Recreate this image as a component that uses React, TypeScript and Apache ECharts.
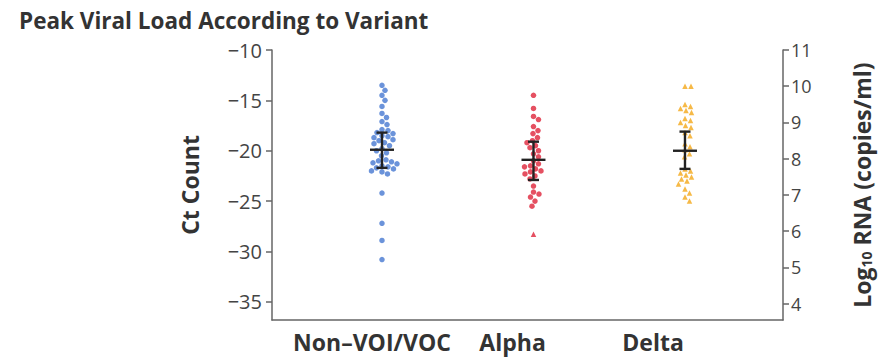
import React, { useEffect, useRef } from "react";
import * as echarts from "echarts";

const chartTitle = "Peak Viral Load According to Variant";
const variants = ["Non–VOI/VOC", "Alpha", "Delta"];
const variantColors = ["#5b87d6", "#e23d50", "#f5b133"];

const nonVoiCircles = [
  -13.5, -14.0, -14.5, -15.0, -15.6,
  -16.3, -16.7, -17.1, -17.4,
  -17.9, -18.0, -18.2, -18.3, -18.5, -18.6, -18.7, -18.9, -19.0, -19.2, -19.3, -19.5,
  -19.8, -20.0, -20.2, -20.5,
  -20.9, -21.0, -21.1, -21.2, -21.3, -21.5, -21.6, -21.7, -21.8, -22.0, -22.1, -22.3,
  -24.2, -27.2, -28.9, -30.8,
];
const nonVoiTriangles: number[] = [];

const alphaCircles = [
  -14.5, -15.8, -16.6, -16.9, -17.6, -18.0, -18.3, -18.7, -19.0, -19.2, -19.5, -19.7,
  -20.0, -20.3, -20.6, -21.0, -21.3, -21.5, -21.6, -21.8, -22.0, -22.1, -22.3, -22.5,
  -22.8, -23.5, -24.1, -24.3, -24.6, -25.0, -25.5,
];
const alphaTriangles = [-28.3];

const deltaCircles: number[] = [];
const deltaTriangles = [
  -13.6, -13.6, -15.4, -15.6, -15.8, -16.0, -16.2, -16.8, -17.0, -17.2, -17.5, -17.7,
  -18.2, -18.5, -19.3, -19.6, -19.9, -20.3, -20.6, -21.8, -22.0, -22.2, -22.4, -22.6,
  -22.8, -23.0, -23.3, -23.8, -24.2, -24.6, -25.0,
];

const meanCt = [-19.9, -20.9, -20.0];
const upperCt = [-18.2, -19.1, -18.1];
const lowerCt = [-21.7, -22.9, -21.8];

const ctTicks = [-35, -30, -25, -20, -15, -10];
const rnaTicks = [4, 5, 6, 7, 8, 9, 10, 11];

// approximate pixel scales used only for the beeswarm collision layout
const Y_PX = 10.08;
const X_PX = 151.5;
const DIAM = 5.8;

function swarm(circles: number[], triangles: number[], center: number) {
  const items = circles
    .map((v) => ({ v, s: "circle" }))
    .concat(triangles.map((v) => ({ v, s: "triangle" })));
  const order = items.map((_, i) => i).sort((a, b) => items[b].v - items[a].v);
  const placed: { x: number; y: number }[] = [];
  const out: any[] = [];
  for (const i of order) {
    const y = items[i].v * Y_PX;
    let chosen = 0;
    for (let k = 0; k < 400; k++) {
      const off = (k % 2 === 1 ? 1 : -1) * Math.ceil(k / 2) * 0.5;
      let ok = true;
      for (const p of placed) {
        const dx = p.x - off;
        const dy = p.y - y;
        if (dx * dx + dy * dy < DIAM * DIAM) {
          ok = false;
          break;
        }
      }
      if (ok) {
        chosen = off;
        break;
      }
    }
    placed.push({ x: chosen, y });
    out.push({ value: [center + chosen / X_PX, items[i].v], symbol: items[i].s });
  }
  return out;
}

const fontFamily = "'Open Sans', 'Noto Sans', sans-serif";

export default function App() {
  const ref = useRef<HTMLDivElement>(null);
  useEffect(() => {
    if (!ref.current) return;
    const chart = echarts.init(ref.current, null, { renderer: "svg" });
    const groups = [
      [nonVoiCircles, nonVoiTriangles],
      [alphaCircles, alphaTriangles],
      [deltaCircles, deltaTriangles],
    ];
    const scatterSeries = groups.map((g, i) => ({
      type: "scatter",
      name: variants[i],
      xAxisIndex: 0,
      yAxisIndex: 0,
      symbolSize: 5.5,
      itemStyle: { color: variantColors[i], opacity: 0.9 },
      data: swarm(g[0], g[1], i + 1),
      z: 2,
    }));
    const axisLineStyle = { color: "#666", width: 1.5 };
    chart.setOption({
      animation: false,
      textStyle: { fontFamily },
      title: {
        text: chartTitle,
        left: 14,
        top: 4,
        textStyle: { fontSize: 22.5, fontWeight: "bold", color: "#333", fontFamily },
      },
      grid: { left: 272, right: 101, top: 50, bottom: 40, containLabel: false },
      xAxis: [
        {
          type: "value",
          min: 0.274,
          max: 3.647,
          axisLine: { show: true, lineStyle: axisLineStyle },
          axisTick: { show: false },
          axisLabel: { show: false },
          splitLine: { show: false },
        },
        {
          type: "value",
          min: 0.288,
          max: 3.925,
          position: "bottom",
          axisLine: { show: false },
          axisTick: { show: false },
          splitLine: { show: false },
          axisLabel: {
            customValues: [1, 2, 3],
            formatter: (v: number) => variants[Math.round(v) - 1] || "",
            fontSize: 23,
            fontWeight: "bold",
            color: "#333",
            margin: 10,
            fontFamily,
          },
        },
      ],
      yAxis: [
        {
          type: "value",
          position: "left",
          min: -36.8,
          max: -10,
          axisLine: { show: true, lineStyle: axisLineStyle },
          axisTick: { show: true, customValues: ctTicks, length: 6, lineStyle: axisLineStyle },
          axisLabel: {
            customValues: ctTicks,
            formatter: (v: number) => String(v).replace("-", "\u2212"),
            fontSize: 20,
            color: "#444",
            margin: 10,
            fontFamily,
          },
          splitLine: { show: false },
          name: "Ct Count",
          nameLocation: "middle",
          nameGap: 71,
          nameTextStyle: { fontSize: 23, fontWeight: "bold", color: "#333", fontFamily },
        },
        {
          type: "value",
          position: "right",
          min: 3.55,
          max: 11,
          axisLine: { show: true, lineStyle: axisLineStyle },
          axisTick: { show: true, customValues: rnaTicks, length: 6, lineStyle: axisLineStyle },
          axisLabel: {
            customValues: rnaTicks,
            fontSize: 18,
            color: "#444",
            margin: 8,
            fontFamily,
          },
          splitLine: { show: false },
          name: "{b|Log}{s|10}{b| RNA (copies/ml)}",
          nameLocation: "middle",
          nameGap: 67,
          nameTextStyle: {
            rich: {
              b: { fontSize: 23, fontWeight: "bold", color: "#333", fontFamily },
              s: { fontSize: 14, fontWeight: "bold", color: "#333", fontFamily, padding: [9, 0, 0, 0] },
            },
          },
        },
      ],
      series: [
        ...scatterSeries,
        {
          type: "custom",
          xAxisIndex: 0,
          yAxisIndex: 0,
          z: 10,
          data: variants.map((_, i) => [i + 1, meanCt[i], lowerCt[i], upperCt[i]]),
          renderItem: (params: any, api: any) => {
            const c = api.coord([api.value(0), api.value(1)]);
            const lo = api.coord([api.value(0), api.value(2)]);
            const hi = api.coord([api.value(0), api.value(3)]);
            const style = { stroke: "#222", lineWidth: 2.4, fill: null };
            return {
              type: "group",
              children: [
                { type: "line", shape: { x1: c[0], y1: hi[1], x2: c[0], y2: lo[1] }, style },
                { type: "line", shape: { x1: c[0] - 5.5, y1: hi[1], x2: c[0] + 5.5, y2: hi[1] }, style },
                { type: "line", shape: { x1: c[0] - 5.5, y1: lo[1], x2: c[0] + 5.5, y2: lo[1] }, style },
                { type: "line", shape: { x1: c[0] - 12, y1: c[1], x2: c[0] + 12, y2: c[1] }, style },
              ],
            };
          },
        },
      ],
    });
    return () => chart.dispose();
  }, []);
  return (
    <div
      ref={ref}
      style={{ position: "fixed", left: 0, top: 0, width: 884, height: 360, background: "#fff" }}
    />
  );
}
